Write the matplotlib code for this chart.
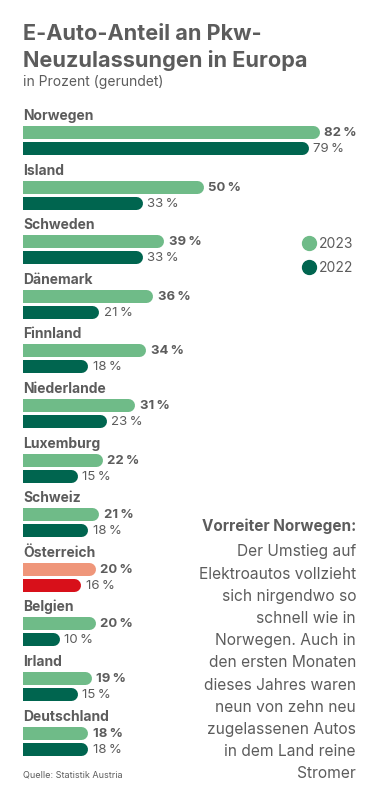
import numpy as np
import matplotlib.pyplot as plt
from matplotlib.lines import Line2D

plt.rcParams['font.family'] = ['Inter', 'DejaVu Sans']

# data
countries = ['Norwegen', 'Island', 'Schweden', 'Dänemark', 'Finnland', 'Niederlande',
             'Luxemburg', 'Schweiz', 'Österreich', 'Belgien', 'Irland', 'Deutschland']
share_2023 = [82, 50, 39, 36, 34, 31, 22, 21, 20, 20, 19, 18]
share_2022 = [79, 33, 33, 21, 18, 23, 15, 18, 16, 10, 15, 18]
highlight = 'Österreich'

W, H = 389, 803
LIGHT, DARK = '#6fbb88', '#00654f'
AT_LIGHT, AT_DARK = '#ef967a', '#d8101a'
GREY = '#5c5c5c'

fig = plt.figure(figsize=(W / 100, H / 100), dpi=100)


def px(x, y):
    return x / W, 1 - y / H


# bar axes: x in percent, y in category index
x0 = 23
ppp = 3.61          # pixels per percent
row = 54.6          # pixels between groups
c0 = 141            # pixel y of first group centre
ax = fig.add_axes([x0 / W, 0, (W - x0) / W, 1])
ax.set_xlim(0, (W - x0) / ppp)
ax.set_ylim((H - c0) / row, -c0 / row)
ax.axis('off')

bar_px = 13
off = 8 / row
lw = bar_px * 0.72
r = (bar_px / 2) / ppp

for i, (c, v23, v22) in enumerate(zip(countries, share_2023, share_2022)):
    col23, col22 = (AT_LIGHT, AT_DARK) if c == highlight else (LIGHT, DARK)
    for v, y, col, wt in [(v23, i - off, col23, 'bold'), (v22, i + off, col22, 'normal')]:
        ax.add_line(Line2D([-5, v - r], [y, y], lw=lw, color=col,
                           solid_capstyle='round'))
        ax.annotate(f'{v}\u2009%', (v, y), xytext=(3.5, 0), textcoords='offset points',
                    ha='left', va='center', fontsize=9.5, fontweight=wt, color=GREY)
    ax.text(0, i - off - 13 / row, c, ha='left', va='baseline', fontsize=10,
            fontweight='bold', color=GREY)

# title block
fig.text(*px(23, 40), 'E-Auto-Anteil an Pkw-', fontsize=15.6, fontweight='bold', color=GREY)
fig.text(*px(23, 67), 'Neuzulassungen in Europa', fontsize=15.6, fontweight='bold', color=GREY)
fig.text(*px(23, 86), 'in Prozent (gerundet)', fontsize=10, color=GREY)

# legend
for y, col, lab in [(244, LIGHT, '2023'), (268, DARK, '2022')]:
    fig.add_artist(Line2D([309 / W], [1 - y / H], marker='o', markersize=10, color=col,
                          lw=0))
    fig.text(*px(319, y), lab, fontsize=10, va='center', color=GREY)

# annotation
note = ['Der Umstieg auf', 'Elektroautos vollzieht', 'sich nirgendwo so',
        'schnell wie in', 'Norwegen. Auch in', 'den ersten Monaten',
        'dieses Jahres waren', 'neun von zehn neu', 'zugelassenen Autos',
        'in dem Land reine', 'Stromer']
fig.text(*px(356, 526), 'Vorreiter Norwegen:', ha='right', va='center', fontsize=11,
         fontweight='bold', color=GREY)
for k, line in enumerate(note):
    fig.text(*px(356, 552 + 22.2 * k), line, ha='right', va='center', fontsize=11.2,
             color=GREY)

fig.text(*px(23, 775), 'Quelle: Statistik Austria', va='center', fontsize=6.5, color=GREY)

fig.savefig('out.png', dpi=100)
